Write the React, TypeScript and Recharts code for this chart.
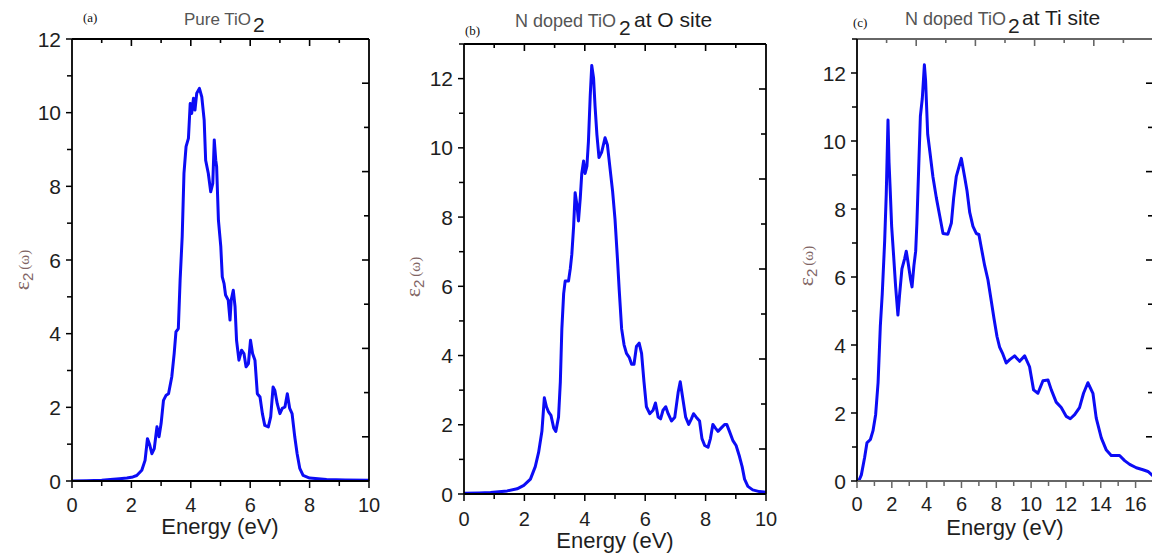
import React from 'react'
import { LineChart, Line, XAxis, YAxis } from 'recharts'

const SANS = '"Liberation Sans", Arial, sans-serif'
const SERIF = '"Liberation Serif", "Times New Roman", serif'
const BLUE = '#0c0cf5'

// (a) pure TiO2
const energyA = [0, 0.5, 1.0, 1.29, 1.6, 1.85, 2.05, 2.18, 2.35, 2.46, 2.54, 2.61, 2.69, 2.77, 2.86, 2.93, 3.0, 3.08, 3.17, 3.25, 3.36, 3.44, 3.5, 3.58, 3.64, 3.71, 3.77, 3.84, 3.92, 3.98, 4.03, 4.09, 4.14, 4.2, 4.29, 4.37, 4.45, 4.5, 4.59, 4.67, 4.74, 4.79, 4.84, 4.87, 4.93, 5.01, 5.06, 5.12, 5.17, 5.26, 5.32, 5.36, 5.43, 5.49, 5.54, 5.62, 5.71, 5.79, 5.86, 5.94, 6.01, 6.08, 6.16, 6.24, 6.33, 6.41, 6.49, 6.61, 6.69, 6.77, 6.83, 6.91, 7.0, 7.08, 7.17, 7.25, 7.33, 7.41, 7.5, 7.58, 7.67, 7.78, 8.0, 8.57, 9.2, 10]
const epsA = [0, 0.01, 0.02, 0.04, 0.06, 0.08, 0.11, 0.15, 0.29, 0.56, 1.15, 1.0, 0.74, 0.88, 1.47, 1.2, 1.56, 2.19, 2.33, 2.37, 2.83, 3.46, 4.05, 4.14, 5.45, 6.63, 8.35, 9.08, 9.3, 10.25, 9.98, 10.39, 10.07, 10.53, 10.66, 10.43, 9.8, 8.71, 8.35, 7.85, 8.08, 9.26, 8.71, 8.53, 7.08, 6.36, 5.54, 5.36, 5.05, 4.91, 4.37, 4.91, 5.18, 4.73, 3.82, 3.28, 3.55, 3.46, 3.1, 3.19, 3.82, 3.46, 3.28, 2.37, 2.28, 1.83, 1.51, 1.47, 1.74, 2.55, 2.46, 2.1, 1.83, 1.97, 2.01, 2.37, 1.97, 1.83, 1.2, 0.74, 0.34, 0.15, 0.08, 0.04, 0.03, 0.02]

// (b) N doped at O site
const energyB = [0, 0.5, 0.88, 1.43, 1.76, 1.98, 2.2, 2.36, 2.47, 2.58, 2.66, 2.73, 2.8, 2.88, 2.97, 3.04, 3.13, 3.19, 3.24, 3.3, 3.35, 3.46, 3.52, 3.57, 3.63, 3.68, 3.74, 3.79, 3.85, 3.9, 3.96, 4.01, 4.07, 4.12, 4.18, 4.23, 4.29, 4.34, 4.4, 4.47, 4.56, 4.67, 4.75, 4.84, 4.92, 5.0, 5.08, 5.14, 5.22, 5.3, 5.38, 5.47, 5.55, 5.63, 5.71, 5.8, 5.88, 5.96, 6.04, 6.15, 6.26, 6.34, 6.43, 6.51, 6.59, 6.68, 6.76, 6.87, 6.98, 7.09, 7.16, 7.25, 7.34, 7.44, 7.53, 7.6, 7.69, 7.8, 7.88, 7.97, 8.08, 8.16, 8.24, 8.32, 8.41, 8.52, 8.63, 8.7, 8.79, 8.9, 9.01, 9.12, 9.21, 9.29, 9.4, 9.56, 9.78, 10]
const epsB = [0.02, 0.03, 0.04, 0.09, 0.15, 0.25, 0.43, 0.79, 1.2, 1.81, 2.78, 2.52, 2.37, 2.27, 1.91, 1.81, 2.22, 3.24, 4.77, 5.79, 6.15, 6.15, 6.51, 6.92, 7.73, 8.7, 8.35, 7.89, 8.55, 9.26, 9.62, 9.26, 9.47, 10.18, 11.51, 12.38, 12.02, 11.2, 10.39, 9.72, 9.88, 10.29, 10.08, 9.37, 8.75, 7.94, 6.81, 5.89, 4.77, 4.31, 4.06, 3.95, 3.75, 3.75, 4.26, 4.36, 4.06, 3.24, 2.52, 2.32, 2.42, 2.63, 2.22, 2.17, 2.42, 2.52, 2.32, 2.11, 2.22, 2.93, 3.24, 2.73, 2.22, 2.01, 2.17, 2.32, 2.22, 2.11, 1.6, 1.4, 1.35, 1.6, 2.01, 1.91, 1.81, 1.91, 2.01, 2.01, 1.81, 1.55, 1.4, 1.09, 0.79, 0.43, 0.22, 0.12, 0.07, 0.05]

// (c) N doped at Ti site
const energyC = [0.1, 0.25, 0.44, 0.57, 0.77, 0.92, 1.07, 1.21, 1.34, 1.45, 1.59, 1.68, 1.78, 1.84, 1.91, 1.99, 2.1, 2.22, 2.35, 2.45, 2.58, 2.74, 2.83, 2.93, 3.08, 3.16, 3.27, 3.37, 3.44, 3.54, 3.64, 3.75, 3.87, 3.94, 4.06, 4.21, 4.36, 4.56, 4.75, 4.94, 5.22, 5.42, 5.55, 5.7, 5.99, 6.18, 6.32, 6.47, 6.66, 6.85, 7.0, 7.14, 7.33, 7.52, 7.71, 7.87, 8.04, 8.19, 8.38, 8.57, 8.77, 9.05, 9.34, 9.63, 9.91, 10.14, 10.39, 10.68, 10.97, 11.16, 11.44, 11.73, 12.02, 12.25, 12.5, 12.78, 13.01, 13.26, 13.55, 13.74, 14.03, 14.32, 14.6, 15.08, 15.37, 15.66, 16.04, 16.42, 16.71, 17]
const epsC = [0, 0.18, 0.7, 1.12, 1.22, 1.48, 1.95, 2.89, 4.56, 5.5, 7.07, 8.43, 10.62, 9.37, 8.53, 7.49, 6.65, 5.71, 4.88, 5.5, 6.24, 6.55, 6.76, 6.44, 5.92, 5.71, 6.34, 6.76, 7.59, 9.16, 10.73, 11.25, 12.24, 11.77, 10.2, 9.58, 8.95, 8.32, 7.8, 7.28, 7.26, 7.59, 8.32, 8.95, 9.49, 8.95, 8.53, 7.91, 7.49, 7.28, 7.25, 6.86, 6.34, 5.92, 5.3, 4.77, 4.25, 3.94, 3.73, 3.47, 3.57, 3.68, 3.52, 3.68, 3.36, 2.68, 2.58, 2.95, 2.97, 2.68, 2.32, 2.16, 1.9, 1.83, 1.95, 2.16, 2.58, 2.89, 2.58, 1.85, 1.27, 0.91, 0.75, 0.75, 0.6, 0.49, 0.39, 0.33, 0.28, 0.15]

// tick values
const xTicks10 = [0, 1, 2, 3, 4, 5, 6, 7, 8, 9, 10]
const xTicks17 = [0, 1, 2, 3, 4, 5, 6, 7, 8, 9, 10, 11, 12, 13, 14, 15, 16, 17]
const yTicks12 = [0, 1, 2, 3, 4, 5, 6, 7, 8, 9, 10, 11, 12]
const yTicks13 = [0, 1, 2, 3, 4, 5, 6, 7, 8, 9, 10, 11, 12, 13]
const frameTicks = [1, 2, 3, 4, 5, 6, 7, 8, 9]

const toRows = (e: number[], v: number[]) => e.map((x, i) => ({ e: x, eps: v[i] }))

const tickText = { fontSize: 20, fontFamily: SANS, fill: '#1e1e1e' }

function BottomTick(props: any) {
    const { x, y, payload, color, labelGap } = props
    const major = payload.value % 2 === 0
    return (
        <g>
            <line x1={x} y1={y} x2={x} y2={y + (major ? 7 : 5)} stroke={color} strokeWidth={1.5} />
            {major && (
                <text x={x} y={y + labelGap} textAnchor="middle" {...tickText}>{payload.value}</text>
            )}
        </g>
    )
}

function LeftTick(props: any) {
    const { x, y, payload } = props
    const major = payload.value % 2 === 0
    return (
        <g>
            <line x1={x - (major ? 6 : 5)} y1={y} x2={x} y2={y} stroke="#000" strokeWidth={1.5} />
            {major && (
                <text x={x - 11} y={y} dy="0.36em" textAnchor="end" {...tickText} fontSize={21}>{payload.value}</text>
            )}
        </g>
    )
}

// frame ticks on the top and right borders point inwards
function TopTick(props: any) {
    const { x, y, payload, color } = props
    const major = payload.value % 2 === 0
    return <line x1={x} y1={y} x2={x} y2={y + (major ? 7 : 4)} stroke={color} strokeWidth={1.6} />
}

function RightTick(props: any) {
    const { x, y, payload } = props
    const major = payload.value % 2 === 1
    return <line x1={x} y1={y} x2={x - (major ? 7 : 5)} y2={y} stroke="#000" strokeWidth={1.6} />
}

interface PanelProps {
    left: number
    margin: { top: number; right: number; bottom: number; left: number }
    rows: { e: number; eps: number }[]
    xMax: number
    xTicks: number[]
    yMax: number
    yTicks: number[]
    bottomColor: string
    labelGap: number
}

// axes get a 1px box (recharts skips zero-sized axes), margins are 1px smaller to compensate
function Panel({ left, margin, rows, xMax, xTicks, yMax, yTicks, bottomColor, labelGap }: PanelProps) {
    const m = { top: margin.top - 1, right: margin.right - 1, bottom: margin.bottom - 1, left: margin.left - 1 }
    return (
        <div style={{ position: 'absolute', left, top: 0, width: 400, height: 556 }}>
            <LineChart width={400} height={556} data={rows} margin={m}>
                <XAxis
                    xAxisId="b"
                    dataKey="e"
                    type="number"
                    domain={[0, xMax]}
                    allowDataOverflow
                    ticks={xTicks}
                    interval={0}
                    height={1}
                    tickSize={0}
                    tickMargin={0}
                    tickLine={false}
                    axisLine={{ stroke: bottomColor, strokeWidth: 1.8 }}
                    tick={(p: any) => <BottomTick {...p} color={bottomColor} labelGap={labelGap} />}
                />
                <XAxis
                    xAxisId="t"
                    orientation="top"
                    dataKey="e"
                    type="number"
                    domain={[0, 10]}
                    allowDataOverflow
                    ticks={frameTicks}
                    interval={0}
                    height={1}
                    tickSize={0}
                    tickMargin={0}
                    tickLine={false}
                    axisLine={{ stroke: bottomColor, strokeWidth: 1.8 }}
                    tick={(p: any) => <TopTick {...p} color={bottomColor} />}
                />
                <YAxis
                    yAxisId="l"
                    type="number"
                    domain={[0, yMax]}
                    allowDataOverflow
                    ticks={yTicks}
                    interval={0}
                    width={1}
                    tickSize={0}
                    tickMargin={0}
                    tickLine={false}
                    axisLine={{ stroke: '#000', strokeWidth: 1.8 }}
                    tick={(p: any) => <LeftTick {...p} />}
                />
                <YAxis
                    yAxisId="r"
                    orientation="right"
                    dataKey="eps"
                    type="number"
                    domain={[0, 10]}
                    allowDataOverflow
                    ticks={frameTicks}
                    interval={0}
                    width={1}
                    tickSize={0}
                    tickMargin={0}
                    tickLine={false}
                    axisLine={{ stroke: '#000', strokeWidth: 1.8 }}
                    tick={(p: any) => <RightTick {...p} />}
                />
                <Line
                    xAxisId="b"
                    yAxisId="l"
                    type="linear"
                    dataKey="eps"
                    stroke={BLUE}
                    strokeWidth={3}
                    strokeLinejoin="round"
                    dot={false}
                    activeDot={false}
                    isAnimationActive={false}
                />
            </LineChart>
        </div>
    )
}

function EpsLabel({ x, y }: { x: number; y: number }) {
    return (
        <text transform={`translate(${x},${y}) rotate(-90)`} textAnchor="middle" fill="#806464" fontFamily={SERIF}>
            <tspan fontSize={22}>ε</tspan>
            <tspan fontSize={15} dy={4} fontFamily={SANS}>2</tspan>
            <tspan fontSize={15} dy={-4} dx={3}>(ω)</tspan>
        </text>
    )
}

export default function App() {
    const energyText = { fontSize: 22, fontFamily: SANS, fill: '#1e1e1e', textAnchor: 'middle' as const }
    const smallA = { fontSize: 17, fontFamily: SANS, fill: '#555' }
    const small = { fontSize: 18, fontFamily: SANS, fill: '#555' }
    const sub = { fontSize: 21, fontFamily: SANS, fill: '#222' }
    const bigTitle = { fontSize: 21, fontFamily: SANS, fill: '#1e1e1e' }
    const tag = { fontSize: 13, fontFamily: SERIF, fill: '#111' }
    return (
        <div style={{ position: 'fixed', left: 0, top: 0, width: 1152, height: 556, overflow: 'hidden', background: '#fff' }}>
            <Panel
                left={0}
                margin={{ top: 39, right: 31, bottom: 75, left: 72 }}
                rows={toRows(energyA, epsA)}
                xMax={10}
                xTicks={xTicks10}
                yMax={12}
                yTicks={yTicks12}
                bottomColor="#000"
                labelGap={31}
            />
            <Panel
                left={390}
                margin={{ top: 44, right: 24, bottom: 62, left: 74 }}
                rows={toRows(energyB, epsB)}
                xMax={10}
                xTicks={xTicks10}
                yMax={13}
                yTicks={yTicks13}
                bottomColor="#000"
                labelGap={32}
            />
            <Panel
                left={780}
                margin={{ top: 39, right: 27, bottom: 75, left: 77 }}
                rows={toRows(energyC, epsC)}
                xMax={17}
                xTicks={xTicks17}
                yMax={13}
                yTicks={yTicks13}
                bottomColor="#666"
                labelGap={30}
            />
            <svg width={1152} height={556} style={{ position: 'absolute', left: 0, top: 0, pointerEvents: 'none' }}>
                {/* panel a */}
                <text x={83} y={22} {...tag}>(a)</text>
                <text x={184} y={25} {...smallA}>Pure TiO</text>
                <text x={253} y={32} {...sub}>2</text>
                <EpsLabel x={29} y={270} />
                <text x={220} y={534} {...energyText}>Energy (eV)</text>

                {/* panel b */}
                <text x={465} y={35} {...tag}>(b)</text>
                <text x={515} y={27} {...small}>N doped TiO</text>
                <text x={619} y={35} {...sub}>2</text>
                <text x={634} y={27} {...bigTitle}>at O site</text>
                <EpsLabel x={420} y={277} />
                <text x={615} y={548} {...energyText}>Energy (eV)</text>

                {/* panel c */}
                <text x={853} y={27} {...tag}>(c)</text>
                <text x={905} y={25} {...small}>N doped TiO</text>
                <text x={1008} y={33} {...sub}>2</text>
                <text x={1022} y={25} {...bigTitle}>at Ti site</text>
                <EpsLabel x={813} y={266} />
                <text x={1005} y={535} {...energyText}>Energy (eV)</text>
            </svg>
        </div>
    )
}
